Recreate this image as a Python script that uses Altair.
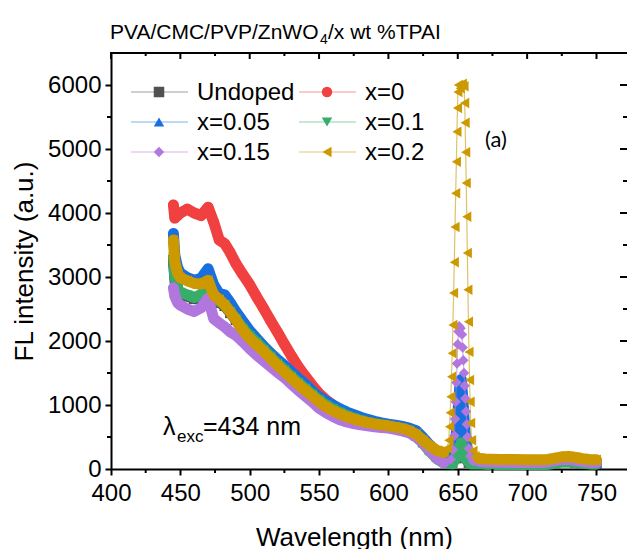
import altair as alt
import pandas as pd

SERIES = ["Undoped", "x=0", "x=0.05", "x=0.1", "x=0.15", "x=0.2"]
COLORS = ["#515151", "#F14040", "#1A6FDF", "#37AD6B", "#B177DE", "#CC9900"]
SHAPES = ["square", "circle", "triangle-up", "triangle-down", "diamond", "triangle-left"]

WL_MAIN = [445, 446, 448, 450, 455, 460, 465, 470, 474, 478, 482, 486, 490, 495, 500,
           505, 510, 515, 520, 525, 530, 535, 540, 545, 550, 555, 560, 565, 570, 575,
           580, 585, 590, 595, 600, 605, 610, 615, 620, 625, 630, 635, 640]

MAIN_UNDOPED = [3250, 2980, 2800, 2740, 2700, 2660, 2700, 2860, 2660, 2600, 2550, 2440, 2330, 2180, 2060,
                1960, 1850, 1740, 1630, 1530, 1430, 1330, 1240, 1150, 1060, 990, 930, 875, 825, 785,
                750, 720, 698, 678, 658, 640, 615, 582, 525, 420, 300, 190, 130]
MAIN_X0 = [4125, 3920, 3960, 4000, 4060, 4000, 3960, 4090, 3860, 3580, 3520, 3380, 3210, 3040, 2880,
           2690, 2510, 2320, 2140, 1950, 1770, 1600, 1450, 1310, 1180, 1080, 1000, 930, 870, 820,
           780, 750, 720, 700, 680, 665, 650, 630, 580, 470, 350, 240, 170]
MAIN_X005 = [3680, 3340, 3150, 3060, 2990, 2950, 2980, 3130, 2880, 2740, 2720, 2600, 2460, 2310, 2160,
             2040, 1920, 1810, 1710, 1620, 1520, 1420, 1330, 1220, 1130, 1060, 1000, 940, 890, 850,
             810, 775, 745, 720, 700, 685, 665, 640, 600, 490, 370, 270, 210]
MAIN_X01 = [3320, 3000, 2820, 2760, 2720, 2680, 2720, 2880, 2680, 2620, 2570, 2460, 2350, 2200, 2080,
            1980, 1870, 1760, 1650, 1550, 1450, 1350, 1260, 1170, 1080, 1000, 940, 885, 835, 795,
            760, 730, 705, 685, 665, 645, 620, 585, 520, 400, 270, 160, 90]
MAIN_X015 = [2830, 2700, 2600, 2560, 2500, 2460, 2520, 2670, 2350, 2280, 2220, 2140, 2090, 1990, 1880,
             1780, 1690, 1600, 1510, 1430, 1330, 1230, 1140, 1050, 950, 880, 820, 770, 735, 710,
             690, 675, 660, 650, 640, 620, 595, 565, 500, 410, 290, 170, 100]
MAIN_X02 = [3580, 3240, 3060, 2990, 2940, 2900, 2890, 2950, 2720, 2650, 2560, 2450, 2330, 2170, 2040,
            1940, 1840, 1730, 1620, 1520, 1420, 1320, 1230, 1140, 1050, 970, 910, 860, 815, 780,
            750, 725, 705, 690, 675, 655, 635, 600, 545, 450, 360, 290, 260]

PEAK_WL_UNDOPED = [646, 649, 651.5, 653, 655, 658, 661]
PEAK_UNDOPED = [100, 170, 280, 300, 180, 100, 85]
PEAK_WL_X0 = [647, 649.5, 651, 652, 653, 654.5, 656.5, 660]
PEAK_X0 = [150, 300, 470, 600, 520, 300, 150, 90]
PEAK_WL_X005 = [647, 648.5, 649.5, 650.5, 651.5, 652.5, 653.5, 654.5, 655.5, 657, 660]
PEAK_X005 = [220, 450, 700, 1000, 1300, 1400, 1150, 800, 500, 250, 120]
PEAK_WL_X01 = [646, 649, 651, 652.5, 654, 656, 659]
PEAK_X01 = [80, 180, 320, 410, 300, 150, 80]
PEAK_WL_X015 = [645, 646.5, 647.5, 648.0, 648.5, 649.0, 649.5, 650.0, 650.5, 651.0, 652.0, 653.0,
                653.5, 654.0, 654.5, 655.0, 655.5, 656.0, 656.5, 657.0, 658.0, 659.0, 661]
PEAK_X015 = [150, 300, 520, 780, 1050, 1350, 1650, 1950, 2150, 2230, 2200, 2100,
             1900, 1700, 1500, 1300, 1100, 900, 700, 500, 320, 200, 120]
PEAK_WL_X02 = [642.5, 643.5, 644.0, 644.5, 645.0, 645.5, 646.0, 646.5, 647.0, 647.5, 648.0, 648.5,
               649.0, 649.4, 649.8, 650.1, 650.4, 651.8, 653.3, 654.5, 655.0, 655.3, 655.7, 656.1,
               656.5, 656.9, 657.3, 657.7, 658.1, 658.5, 658.9, 659.3, 660.0, 661.0, 662.5, 664]
PEAK_X02 = [330, 450, 660, 880, 1130, 1440, 1810, 2250, 2750, 3230, 3780, 4310,
            4800, 5270, 5640, 5890, 6000, 5950, 6020, 5980, 5720, 5410, 4950, 4470,
            3940, 3375, 2800, 2300, 1830, 1390, 1050, 720, 450, 280, 200, 170]

WL_TAIL = [665, 670, 680, 690, 700, 710, 715, 720, 725, 730, 735, 740, 745, 750]
TAIL_UNDOPED = [85, 80, 76, 74, 72, 72, 78, 95, 115, 115, 100, 88, 82, 80]
TAIL_X0 = [90, 85, 80, 78, 76, 76, 80, 100, 120, 120, 105, 90, 85, 85]
TAIL_X005 = [110, 100, 95, 92, 90, 90, 100, 140, 175, 180, 150, 120, 105, 100]
TAIL_X01 = [80, 75, 72, 70, 70, 70, 75, 90, 110, 110, 100, 85, 80, 80]
TAIL_X015 = [120, 110, 105, 102, 100, 100, 110, 130, 150, 150, 135, 115, 105, 100]
TAIL_X02 = [165, 155, 150, 148, 146, 145, 150, 170, 190, 195, 180, 160, 150, 145]

MAIN = [MAIN_UNDOPED, MAIN_X0, MAIN_X005, MAIN_X01, MAIN_X015, MAIN_X02]
PEAK_WL = [PEAK_WL_UNDOPED, PEAK_WL_X0, PEAK_WL_X005, PEAK_WL_X01, PEAK_WL_X015, PEAK_WL_X02]
PEAK = [PEAK_UNDOPED, PEAK_X0, PEAK_X005, PEAK_X01, PEAK_X015, PEAK_X02]
TAIL = [TAIL_UNDOPED, TAIL_X0, TAIL_X005, TAIL_X01, TAIL_X015, TAIL_X02]

X_MAJOR = [400, 450, 500, 550, 600, 650, 700, 750]
X_MINOR = [425, 475, 525, 575, 625, 675, 725]
Y_MAJOR = [0, 1000, 2000, 3000, 4000, 5000, 6000]
Y_MINOR = [500, 1500, 2500, 3500, 4500, 5500]

SHARP = ["x=0.15", "x=0.2"]   # series whose emission spike is drawn as separate markers

rows = []
for s, m, pw, pv, t in zip(SERIES, MAIN, PEAK_WL, PEAK, TAIL):
    parts = [("main", WL_MAIN, m), ("peak", pw, pv), ("tail", WL_TAIL, t)]
    i = 0
    for seg, wls, vals in parts:
        for w, v in zip(wls, vals):
            if s in SHARP:
                grp = "none" if seg == "peak" else s + "_" + seg
            else:
                grp = s
            rows.append({"series": s, "wl": w, "val": v, "idx": i, "grp": grp})
            i += 1
df = pd.DataFrame(rows)

FONT = "Liberation Sans"
W, H = 516, 416

xscale = alt.Scale(domain=[400, 772], nice=False, zero=False)
yscale = alt.Scale(domain=[0, 6500], nice=False, zero=True)
cscale = alt.Scale(domain=SERIES, range=COLORS)
sscale = alt.Scale(domain=SERIES, range=SHAPES)

xaxis = alt.Axis(values=X_MAJOR, tickSize=6, tickWidth=2, tickColor="black",
                 domainColor="black", domainWidth=2, grid=False,
                 labelFont=FONT, labelFontSize=24, labelColor="black", labelPadding=6,
                 labelFlush=False,
                 title="Wavelength (nm)", titleFont=FONT, titleFontSize=26,
                 titleFontWeight="normal", titleColor="black", titlePadding=19,
                 titleX=243)
yaxis = alt.Axis(values=Y_MAJOR, format="d", tickSize=6, tickWidth=2, tickColor="black",
                 domainColor="black", domainWidth=2, grid=False,
                 labelFont=FONT, labelFontSize=24, labelColor="black", labelPadding=4,
                 labelFlush=False,
                 title="FL intensity (a.u.)", titleFont=FONT, titleFontSize=26,
                 titleFontWeight="normal", titleColor="black", titlePadding=10)

base = alt.Chart(df)
X = alt.X("wl:Q", scale=xscale, axis=xaxis)
Y = alt.Y("val:Q", scale=yscale, axis=yaxis)
C = alt.Color("series:N", scale=cscale, legend=None)

series_layers = []
for s in SERIES:
    sb = base.transform_filter(alt.datum.series == s)
    thick = sb.transform_filter(alt.datum.grp != "none").mark_line(
        strokeWidth=11, strokeCap="round", strokeJoin="round", opacity=1
    ).encode(x=X, y=Y, color=C, detail="grp:N", order="idx:Q")
    series_layers.append(thick)
    if s in SHARP:
        thin = sb.mark_line(strokeWidth=1.2, opacity=0.6).encode(
            x=X, y=Y, color=C, order="idx:Q")
        series_layers.append(thin)
    pts = sb.mark_point(filled=True, size=110, opacity=1, strokeWidth=0).encode(
        x=X, y=Y, color=C,
        shape=alt.Shape("series:N", scale=sscale, legend=None))
    series_layers.append(pts)

# extra ticks and top border
tick_style = dict(color="black", strokeWidth=2)
dfx_minor = pd.DataFrame({"v": X_MINOR})
dfx_major = pd.DataFrame({"v": X_MAJOR})
dfy_minor = pd.DataFrame({"v": Y_MINOR})
dfy_major = pd.DataFrame({"v": Y_MAJOR})

bx_minor = alt.Chart(dfx_minor).mark_rule(**tick_style).encode(
    x=alt.X("v:Q", scale=xscale), y=alt.value(H), y2=alt.value(H + 4))
tx_minor = alt.Chart(dfx_minor).mark_rule(**tick_style).encode(
    x=alt.X("v:Q", scale=xscale), y=alt.value(0), y2=alt.value(3))
tx_major = alt.Chart(dfx_major).mark_rule(**tick_style).encode(
    x=alt.X("v:Q", scale=xscale), y=alt.value(0), y2=alt.value(6))
ly_minor = alt.Chart(dfy_minor).mark_rule(**tick_style).encode(
    y=alt.Y("v:Q", scale=yscale), x=alt.value(0), x2=alt.value(-4))
ry_minor = alt.Chart(dfy_minor).mark_rule(**tick_style).encode(
    y=alt.Y("v:Q", scale=yscale), x=alt.value(W), x2=alt.value(W - 4))
ry_major = alt.Chart(dfy_major[dfy_major.v > 0]).mark_rule(**tick_style).encode(
    y=alt.Y("v:Q", scale=yscale), x=alt.value(W), x2=alt.value(W - 7))
top_line = alt.Chart(pd.DataFrame({"a": [0]})).mark_rule(color="black", strokeWidth=2).encode(
    x=alt.value(-1), x2=alt.value(W), y=alt.value(0))

# custom legend
leg = pd.DataFrame({"series": SERIES})
leg["col"] = [i % 2 for i in range(len(SERIES))]
leg["row"] = [i // 2 for i in range(len(SERIES))]
leg["ly"] = 39 + leg["row"] * 30
leg["lx1"] = 20 + leg["col"] * 168
leg["lx2"] = leg["lx1"] + 57
leg["lxm"] = leg["lx1"] + 28
leg["ltx"] = leg["lx2"] + 9

leg_base = alt.Chart(leg)
leg_lines = leg_base.mark_rule(strokeWidth=1.2, opacity=0.55).encode(
    x=alt.X("lx1:Q", scale=None), x2="lx2:Q", y=alt.Y("ly:Q", scale=None),
    color=alt.Color("series:N", scale=cscale, legend=None))
leg_pts = leg_base.mark_point(filled=True, size=110, opacity=1, strokeWidth=0).encode(
    x=alt.X("lxm:Q", scale=None), y=alt.Y("ly:Q", scale=None),
    color=alt.Color("series:N", scale=cscale, legend=None),
    shape=alt.Shape("series:N", scale=sscale, legend=None))
leg_txt = leg_base.mark_text(align="left", baseline="middle", font=FONT, fontSize=24,
                             color="black", dy=1).encode(
    x=alt.X("ltx:Q", scale=None), y=alt.Y("ly:Q", scale=None), text="series:N")

# annotations
def txt(t, x, y, size, font=FONT):
    return alt.Chart(pd.DataFrame({"t": [t]})).mark_text(
        align="left", baseline="alphabetic", font=font, fontSize=size, color="black"
    ).encode(x=alt.value(x), y=alt.value(y), text="t:N")

ann = [
    txt("(a)", 374, 94, 22, font="Lato"),
    txt("λ", 52, 382, 25),
    txt("exc", 66, 389, 17),
    txt("=434 nm", 92, 382, 25),
    txt("PVA/CMC/PVP/ZnWO", -1, -14, 21),
    txt("4", 209, -9, 14),
    txt("/x wt %TPAI", 217, -14, 21),
]

chart = alt.layer(
    *series_layers, bx_minor, tx_minor, tx_major, ly_minor, ry_minor, ry_major, top_line,
    leg_lines, leg_pts, leg_txt, *ann
).properties(
    width=W, height=H,
    padding={"left": 111, "top": 53, "right": 0, "bottom": 80},
    autosize=alt.AutoSizeParams(type="none"),
).configure_view(strokeWidth=0).configure(background="white")

chart.save("out.html", embed_options={"renderer": "svg", "actions": False})
